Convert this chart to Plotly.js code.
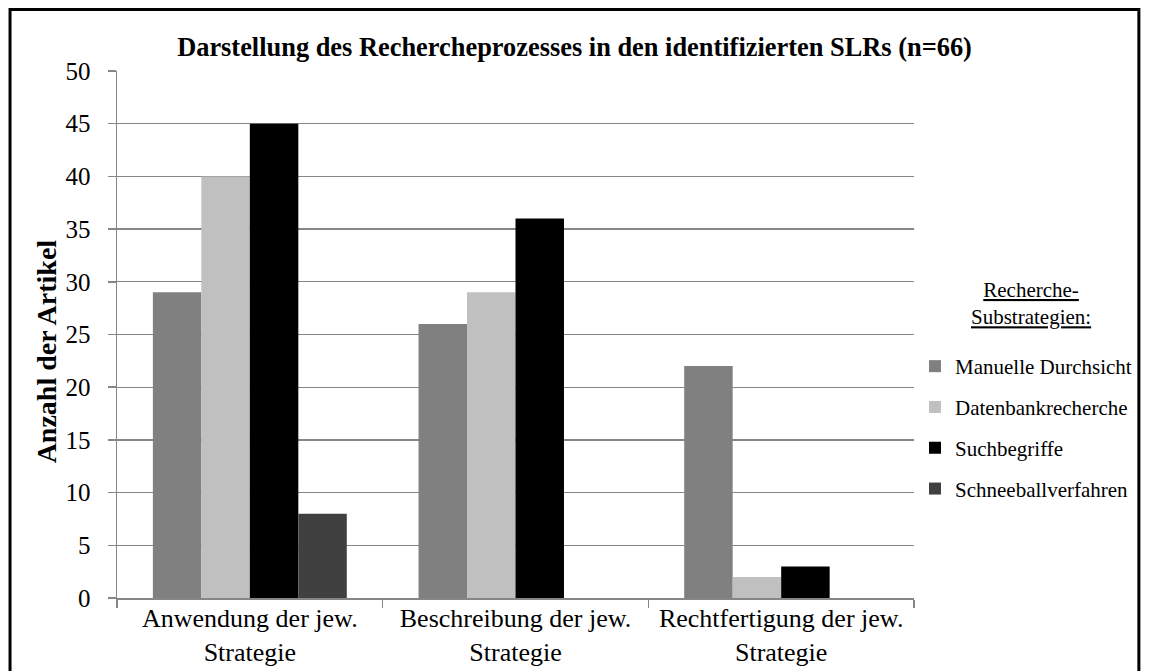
<!DOCTYPE html>
<html>
<head>
<meta charset="utf-8">
<script src="https://cdn.plot.ly/plotly-3.0.1.min.js"></script>
<style>
html,body{margin:0;padding:0;background:#fff;}
#chart{width:1149px;height:671px;}
</style>
</head>
<body>
<div id="chart"></div>
<script>
const categories = ["Anwendung der jew.<br>Strategie", "Beschreibung der jew.<br>Strategie", "Rechtfertigung der jew.<br>Strategie"];
const seriesNames = ["Manuelle Durchsicht", "Datenbankrecherche", "Suchbegriffe", "Schneeballverfahren"];
const manuelle = [29, 26, 22];
const datenbank = [40, 29, 2];
const suchbegriffe = [45, 36, 3];
const schneeball = [8, 0, 0];
const yTicks = [0, 5, 10, 15, 20, 25, 30, 35, 40, 45, 50];

const seriesValues = [manuelle, datenbank, suchbegriffe, schneeball];
const colors = ["#808080", "#c0c0c0", "#000000", "#404040"];
const font = "Liberation Serif, Times New Roman, serif";

const traces = seriesNames.map((n, i) => ({
  type: "bar",
  name: n,
  x: categories,
  y: seriesValues[i],
  legendgroup: "g" + i,
  marker: {color: colors[i], line: {width: 0}},
  hoverinfo: "y+name"
}));

const L = 117, R = 231, T = 71, B = 73;
const pw = 1149 - L - R, ph = 671 - T - B;
const px = v => (v - L) / pw;
const py = v => (671 - B - v) / ph;

const layout = {
  width: 1149, height: 671,
  margin: {l: L, r: R, t: T, b: B},
  paper_bgcolor: "#ffffff",
  plot_bgcolor: "#ffffff",
  font: {family: font, color: "#000", size: 25},
  title: {
    text: "<b>Darstellung des Rechercheprozesses in den identifizierten SLRs (n=66)</b>",
    font: {family: font, size: 26.4, color: "#000"},
    x: 0.5, xref: "container", xanchor: "center",
    y: 1 - 47 / 671, yref: "container", yanchor: "middle"
  },
  barmode: "group",
  bargap: 0.27,
  bargroupgap: 0,
  xaxis: {
    type: "category",
    showgrid: false,
    showline: true, linecolor: "#868686", linewidth: 1.5,
    ticks: "outside", tickson: "boundaries", ticklen: 8, tickcolor: "#868686", tickwidth: 1.5,
    tickfont: {family: font, size: 26, color: "#000"},
    ticklabelstandoff: -4,
    fixedrange: true
  },
  yaxis: {
    range: [0, 50],
    tickvals: yTicks,
    showgrid: true, gridcolor: "#868686", gridwidth: 1.3,
    showline: true, linecolor: "#868686", linewidth: 1.5,
    zeroline: false,
    ticks: "outside", ticklen: 8, tickcolor: "#868686", tickwidth: 1.5,
    tickfont: {family: font, size: 25, color: "#000"},
    ticklabelstandoff: 12,
    fixedrange: true
  },
  showlegend: true,
  legend: {
    x: px(919), xanchor: "left",
    y: py(346), yanchor: "top",
    traceorder: "grouped",
    tracegroupgap: 10.5,
    font: {family: font, size: 21, color: "#000"},
    bgcolor: "rgba(0,0,0,0)",
    itemwidth: 30
  },
  annotations: [{
    text: "<u>Recherche-</u><br><u>Substrategien:</u>",
    xref: "paper", yref: "paper",
    x: px(1036), y: py(303),
    xanchor: "center", yanchor: "middle",
    showarrow: false,
    align: "center",
    font: {family: font, size: 21, color: "#000"}
  }, {
    text: "<b>Anzahl der Artikel</b>",
    xref: "paper", yref: "paper",
    x: px(46), y: py(351),
    xanchor: "center", yanchor: "middle",
    textangle: -90,
    showarrow: false,
    font: {family: font, size: 28, color: "#000"}
  }],
  shapes: [{
    type: "rect", xref: "paper", yref: "paper",
    x0: px(9.5), x1: px(1144), y0: py(710), y1: py(9.5),
    line: {color: "#000", width: 3},
    fillcolor: "rgba(0,0,0,0)",
    layer: "above"
  }]
};

Plotly.newPlot("chart", traces, layout, {displayModeBar: false, staticPlot: true});
</script>
</body>
</html>
